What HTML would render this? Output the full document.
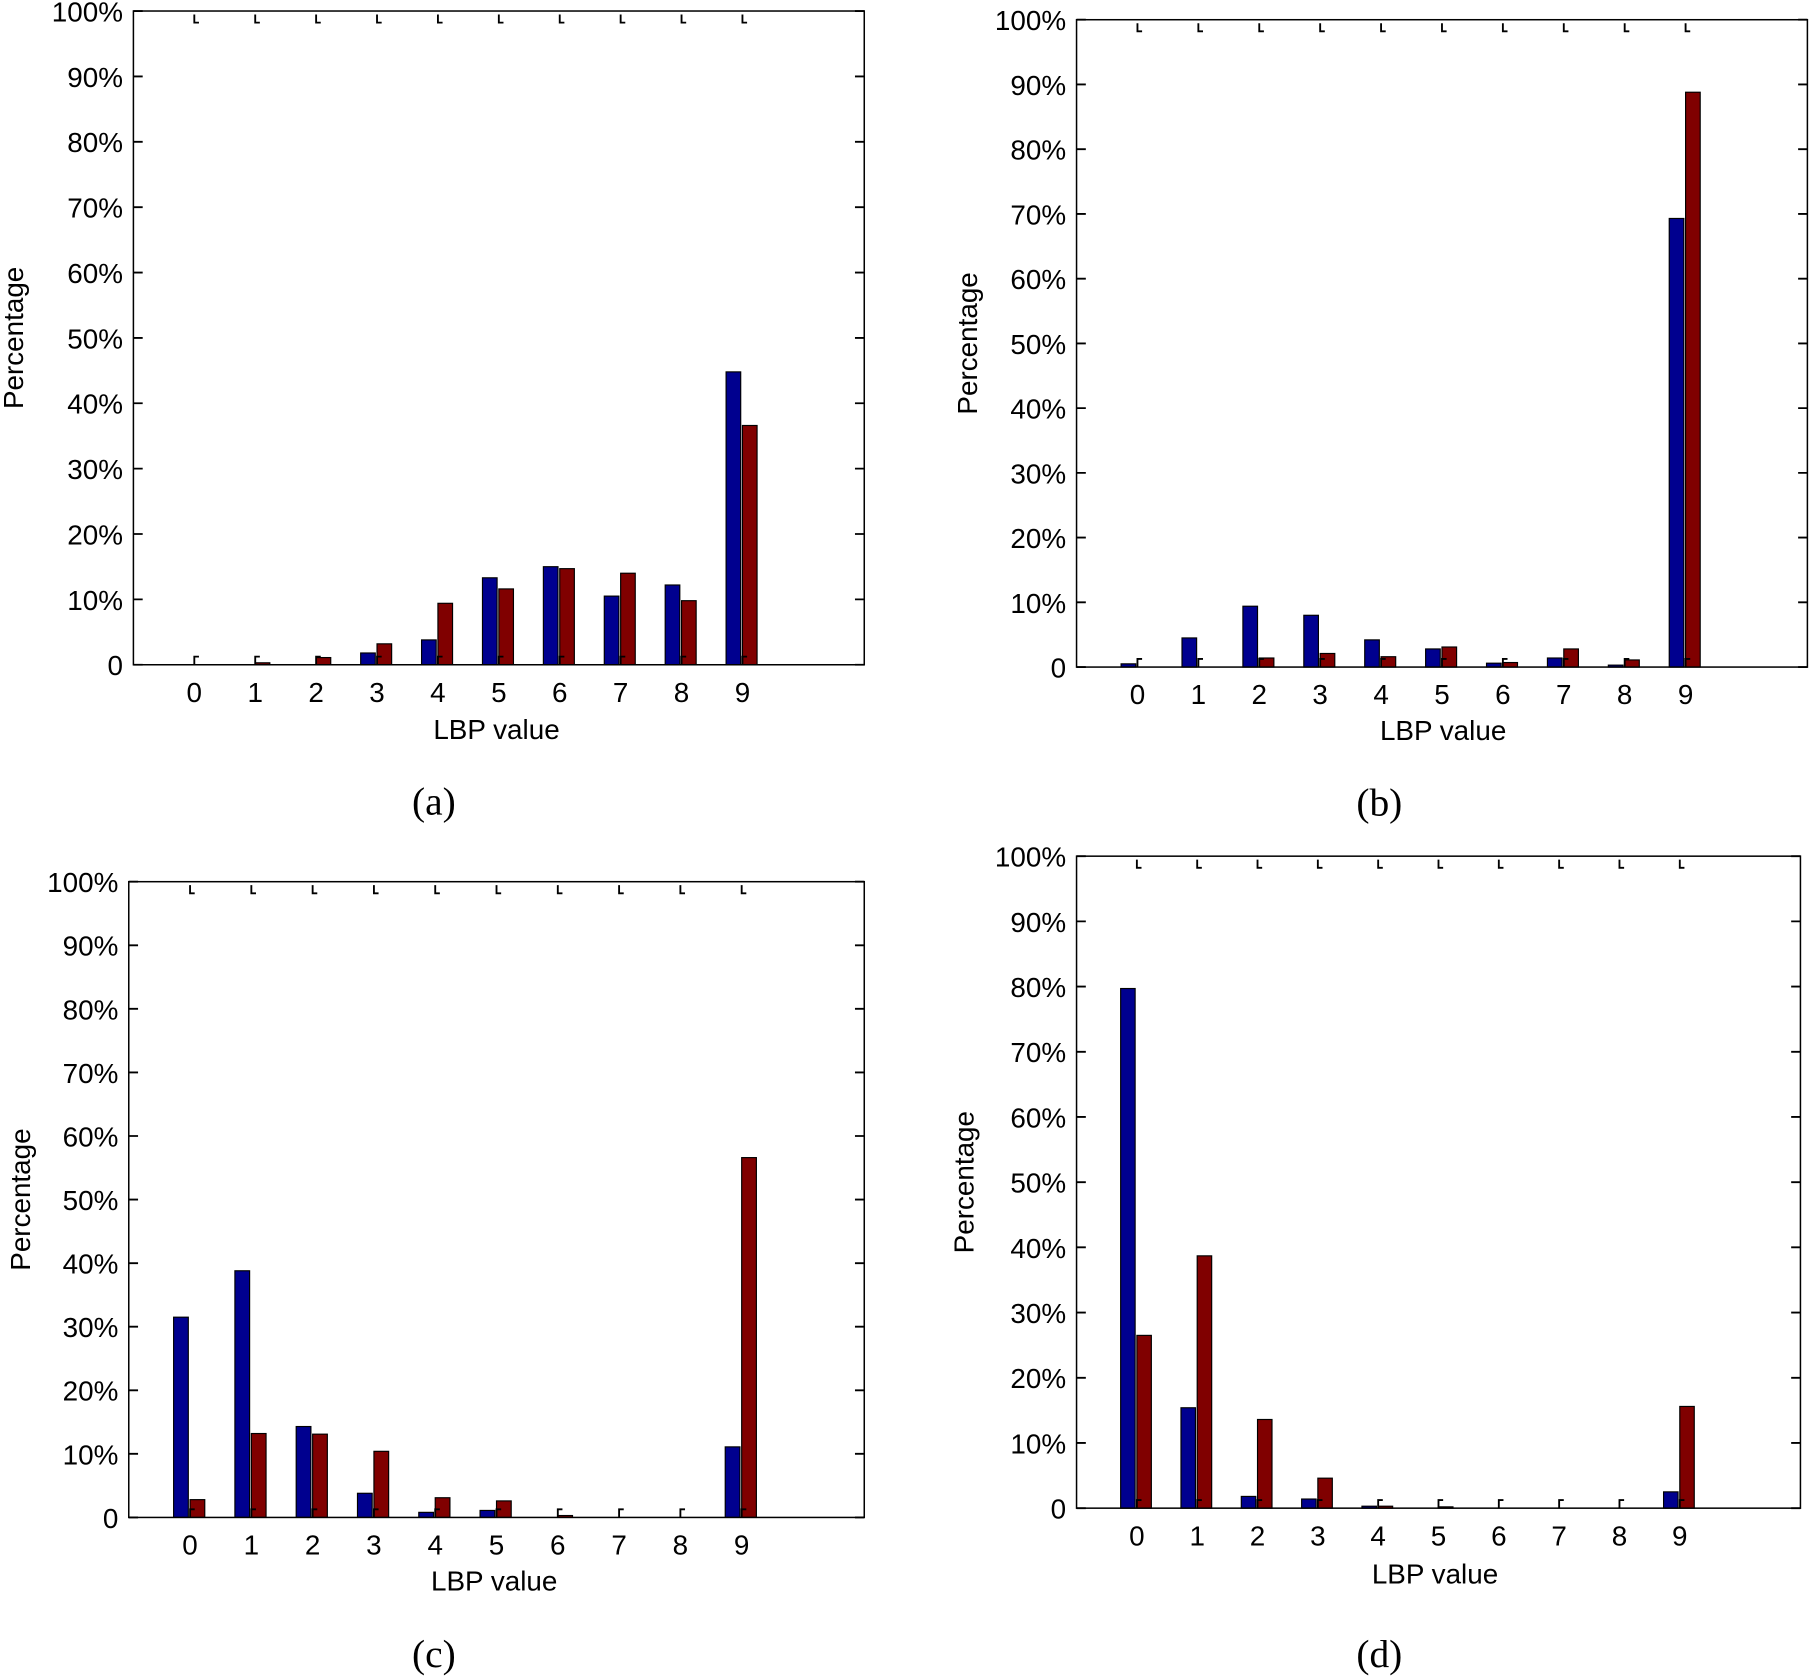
<!DOCTYPE html>
<html><head><meta charset="utf-8"><style>
html,body{margin:0;padding:0;background:#fff;}
svg{display:block;}
text{font-family:"Liberation Sans",Arial,sans-serif;fill:#000;}
.cap{font-family:"Liberation Serif","Times New Roman",serif;}
</style></head><body>
<svg id="fig" width="1819" height="1678" viewBox="0 0 1568 1446.4" preserveAspectRatio="none" xmlns="http://www.w3.org/2000/svg"></svg>
<script>
const categories = [0,1,2,3,4,5,6,7,8,9];
const yTicks = [0,10,20,30,40,50,60,70,80,90,100];
const yTickLabels = ["0","10%","20%","30%","40%","50%","60%","70%","80%","90%","100%"];
const aBlue = [0,0,0,1.8,3.8,13.3,15,10.5,12.2,44.8];
const aRed  = [0,0.3,1.1,3.2,9.4,11.6,14.7,14,9.8,36.6];
const bBlue = [0.5,4.5,9.4,8,4.2,2.8,0.6,1.4,0.3,69.3];
const bRed  = [0,0,1.4,2.1,1.6,3.1,0.7,2.8,1.1,88.8];
const cBlue = [31.5,38.8,14.3,3.8,0.8,1.1,0,0,0,11.1];
const cRed  = [2.8,13.2,13.1,10.4,3.1,2.6,0.3,0,0,56.6];
const dBlue = [79.7,15.4,1.8,1.4,0.3,0,0,0,0,2.5];
const dRed  = [26.5,38.7,13.6,4.6,0.3,0.2,0,0,0,15.6];

const NS = "http://www.w3.org/2000/svg";
const svg = document.getElementById('fig');
function mk(tag, attrs, parent){
  const e = document.createElementNS(NS, tag);
  for (const k in attrs) e.setAttribute(k, attrs[k]);
  (parent||svg).appendChild(e);
  return e;
}
const panels = [
  {id:'a', L:115, R:745, T:9.5, B:573, blue:aBlue, red:aRed, ylab:8, xl:428, xly:637, cap:374, capy:702},
  {id:'b', L:928, R:1558, T:17, B:575, blue:bBlue, red:bRed, ylab:830, xl:1244, xly:638, cap:1189, capy:703},
  {id:'c', L:111, R:745, T:760, B:1308, blue:cBlue, red:cRed, ylab:14, xl:426, xly:1371, cap:374, capy:1437},
  {id:'d', L:928, R:1552, T:738, B:1300, blue:dBlue, red:dRed, ylab:827, xl:1237, xly:1365, cap:1189, capy:1437}
];
panels.forEach(p=>{
  const g = mk('g',{});
  
  
  const xs = v => p.L + (v+1)*(p.R-p.L)/12;
  const ys = v => p.B - v*(p.B-p.T)/100;
  const unit = (p.R-p.L)/12;
  categories.forEach((c,i)=>{
    const cx = xs(c);
    const bw = unit*0.24;
    const bv = p.blue[i], rv = p.red[i];
    if (bv>0){
      const r = mk('rect',{x:cx-bw-1.5,y:ys(bv),width:bw,height:p.B-ys(bv),fill:'#00008f',stroke:'#000','stroke-width':1},g);
      
      
    }
    if (rv>0){
      const r = mk('rect',{x:cx,y:ys(rv),width:bw,height:p.B-ys(rv),fill:'#800000',stroke:'#000','stroke-width':1},g);
      
      
    }
    mk('path',{d:`M${cx} ${p.B} v-7 h4 M${cx} ${p.T+3} v7 h4`,stroke:'#000','stroke-width':1.6,fill:'none'},g);
    const t = mk('text',{x:cx,y:p.B+32,'font-size':24,'text-anchor':'middle'},g);
    t.textContent = c;
    
    
  });
  const box = mk('rect',{x:p.L,y:p.T,width:p.R-p.L,height:p.B-p.T,fill:'none',stroke:'#000','stroke-width':1.3},g);
  
  
  yTicks.forEach((v,i)=>{
    const y = ys(v);
    mk('path',{d:`M${p.L} ${y} h8 M${p.R} ${y} h-8`,stroke:'#000','stroke-width':1.6},g);
    const t = mk('text',{x:p.L-9,y:y+9,'font-size':24,'text-anchor':'end'},g);
    t.textContent = yTickLabels[i];
    
    
  });
  const yl = mk('text',{x:0,y:0,'font-size':24,'text-anchor':'middle',transform:`translate(${p.ylab+12},${(p.T+p.B)/2}) rotate(-90)`},g);
  yl.textContent='Percentage';
  
  
  const xl = mk('text',{x:p.xl,y:p.xly,'font-size':24,'text-anchor':'middle'},g);
  xl.textContent='LBP value';
  
  
  const cp = mk('text',{x:p.cap,y:p.capy,'font-size':34,'text-anchor':'middle',class:'cap'},g);
  cp.textContent='('+p.id+')';
  
  
});
</script>
</body></html>
